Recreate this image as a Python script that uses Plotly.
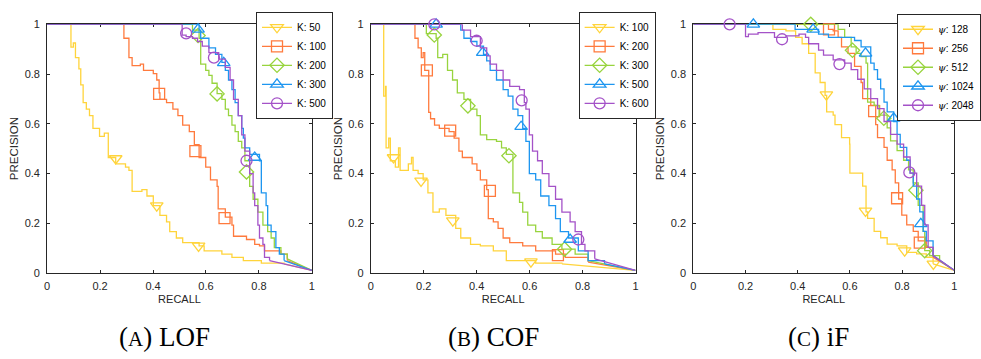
import plotly.graph_objects as go

# ---------------- data ----------------
# LOF
LOF_K50_R = [0, 0.090, 0.099, 0.107, 0.120, 0.127, 0.136, 0.148, 0.160, 0.173, 0.198, 0.216, 0.231, 0.259, 0.296, 0.309, 0.321, 0.358, 0.377, 0.401, 0.426, 0.451, 0.463, 0.488, 0.512, 0.574, 0.593, 0.660, 0.698, 0.741, 0.809, 0.895, 1.0]
LOF_K50_P = [1, 0.908, 0.925, 0.866, 0.821, 0.756, 0.685, 0.659, 0.633, 0.581, 0.549, 0.562, 0.464, 0.438, 0.425, 0.412, 0.328, 0.335, 0.309, 0.270, 0.231, 0.205, 0.166, 0.140, 0.121, 0.108, 0.088, 0.075, 0.062, 0.049, 0.039, 0.036, 0.01]
LOF_K50_MR = [0.259, 0.414, 0.572]
LOF_K50_MP = [0.46, 0.27, 0.108]

LOF_K100_R = [0, 0.290, 0.309, 0.321, 0.352, 0.364, 0.401, 0.414, 0.423, 0.426, 0.451, 0.475, 0.494, 0.512, 0.537, 0.556, 0.574, 0.599, 0.617, 0.642, 0.646, 0.673, 0.698, 0.704, 0.753, 0.784, 0.802, 0.821, 0.883, 0.907, 1.0]
LOF_K100_P = [1, 0.944, 0.866, 0.834, 0.840, 0.815, 0.802, 0.776, 0.724, 0.698, 0.685, 0.659, 0.633, 0.594, 0.568, 0.516, 0.464, 0.425, 0.374, 0.348, 0.257, 0.224, 0.192, 0.147, 0.134, 0.114, 0.108, 0.088, 0.075, 0.049, 0.01]
LOF_K100_MR = [0.423, 0.56, 0.67]
LOF_K100_MP = [0.72, 0.49, 0.22]

LOF_K200_R = [0, 0.549, 0.574, 0.580, 0.599, 0.611, 0.623, 0.642, 0.660, 0.673, 0.685, 0.698, 0.710, 0.722, 0.735, 0.747, 0.765, 0.778, 0.796, 0.815, 0.833, 0.846, 0.858, 0.883, 0.907, 1.0]
LOF_K200_P = [1, 0.977, 0.944, 0.840, 0.815, 0.795, 0.763, 0.721, 0.698, 0.659, 0.633, 0.594, 0.568, 0.529, 0.503, 0.451, 0.348, 0.296, 0.244, 0.192, 0.166, 0.140, 0.101, 0.075, 0.056, 0.01]
LOF_K200_MR = [0.57, 0.642, 0.753]
LOF_K200_MP = [0.955, 0.72, 0.406]

LOF_K300_R = [0, 0.574, 0.580, 0.611, 0.636, 0.660, 0.673, 0.685, 0.698, 0.710, 0.722, 0.735, 0.741, 0.747, 0.765, 0.802, 0.809, 0.827, 0.833, 0.846, 0.864, 0.877, 0.895, 1.0]
LOF_K300_P = [1, 0.977, 0.944, 0.905, 0.879, 0.847, 0.815, 0.776, 0.737, 0.685, 0.633, 0.581, 0.542, 0.503, 0.477, 0.451, 0.322, 0.270, 0.192, 0.166, 0.101, 0.075, 0.049, 0.01]
LOF_K300_MR = [0.57, 0.667, 0.784]
LOF_K300_MP = [0.98, 0.845, 0.464]

LOF_K500_R = [0, 0.510, 0.525, 0.549, 0.568, 0.586, 0.611, 0.648, 0.673, 0.691, 0.704, 0.722, 0.735, 0.747, 0.765, 0.778, 0.784, 0.796, 0.802, 0.815, 0.821, 0.840, 1.0]
LOF_K500_P = [1, 0.957, 0.951, 0.944, 0.931, 0.912, 0.886, 0.860, 0.827, 0.776, 0.698, 0.633, 0.555, 0.490, 0.399, 0.322, 0.270, 0.192, 0.140, 0.114, 0.062, 0.049, 0.01]
LOF_K500_MR = [0.525, 0.63, 0.753]
LOF_K500_MP = [0.964, 0.866, 0.451]

# COF
COF_K100_R = [0, 0.049, 0.056, 0.058, 0.068, 0.074, 0.093, 0.105, 0.111, 0.142, 0.154, 0.160, 0.179, 0.198, 0.216, 0.235, 0.259, 0.284, 0.321, 0.340, 0.377, 0.414, 0.463, 0.512, 0.623, 0.722, 1.0]
COF_K100_P = [1, 0.711, 0.750, 0.503, 0.542, 0.451, 0.425, 0.503, 0.412, 0.438, 0.464, 0.412, 0.399, 0.374, 0.322, 0.244, 0.257, 0.231, 0.179, 0.140, 0.114, 0.108, 0.088, 0.049, 0.039, 0.036, 0.01]
COF_K100_MR = [0.086, 0.19, 0.31, 0.605]
COF_K100_MP = [0.464, 0.37, 0.21, 0.045]

COF_K200_R = [0, 0.167, 0.179, 0.191, 0.198, 0.204, 0.219, 0.226, 0.241, 0.259, 0.296, 0.315, 0.333, 0.346, 0.383, 0.401, 0.414, 0.438, 0.444, 0.463, 0.481, 0.500, 0.525, 0.574, 0.623, 0.698, 0.735, 0.821, 1.0]
COF_K200_P = [1, 0.944, 0.905, 0.866, 0.886, 0.815, 0.646, 0.620, 0.594, 0.581, 0.568, 0.542, 0.490, 0.464, 0.438, 0.412, 0.374, 0.335, 0.218, 0.205, 0.179, 0.140, 0.121, 0.108, 0.088, 0.075, 0.062, 0.043, 0.01]
COF_K200_MR = [0.212, 0.30, 0.45, 0.707]
COF_K200_MP = [0.815, 0.572, 0.33, 0.071]

COF_K300_R = [0, 0.210, 0.247, 0.253, 0.272, 0.290, 0.309, 0.327, 0.352, 0.377, 0.401, 0.414, 0.438, 0.475, 0.494, 0.512, 0.537, 0.562, 0.574, 0.593, 0.623, 0.648, 0.685, 0.722, 0.772, 0.821, 1.0]
COF_K300_P = [1, 0.963, 0.944, 0.866, 0.879, 0.815, 0.776, 0.724, 0.698, 0.659, 0.633, 0.555, 0.536, 0.529, 0.503, 0.477, 0.322, 0.283, 0.244, 0.192, 0.166, 0.140, 0.114, 0.095, 0.075, 0.049, 0.01]
COF_K300_MR = [0.24, 0.367, 0.522, 0.732]
COF_K300_MP = [0.957, 0.672, 0.471, 0.095]

COF_K500_R = [0, 0.340, 0.352, 0.377, 0.401, 0.426, 0.438, 0.451, 0.475, 0.500, 0.519, 0.537, 0.556, 0.574, 0.586, 0.599, 0.623, 0.642, 0.673, 0.698, 0.716, 0.747, 0.784, 0.821, 0.883, 1.0]
COF_K500_P = [1, 0.977, 0.944, 0.931, 0.912, 0.879, 0.853, 0.815, 0.776, 0.737, 0.711, 0.659, 0.633, 0.581, 0.529, 0.399, 0.374, 0.309, 0.270, 0.218, 0.166, 0.140, 0.088, 0.049, 0.036, 0.01]
COF_K500_MR = [0.247, 0.423, 0.568, 0.753]
COF_K500_MP = [1.0, 0.886, 0.588, 0.134]

COF_K600_R = [0, 0.346, 0.377, 0.414, 0.438, 0.451, 0.475, 0.500, 0.525, 0.562, 0.580, 0.586, 0.599, 0.611, 0.630, 0.648, 0.673, 0.698, 0.722, 0.753, 0.772, 0.796, 0.809, 0.846, 1.0]
COF_K600_P = [1, 0.977, 0.951, 0.905, 0.873, 0.840, 0.815, 0.776, 0.750, 0.737, 0.685, 0.659, 0.555, 0.490, 0.451, 0.399, 0.348, 0.296, 0.244, 0.205, 0.166, 0.114, 0.088, 0.056, 0.01]
COF_K600_MR = [0.24, 0.40, 0.57, 0.784]
COF_K600_MP = [1.0, 0.934, 0.694, 0.134]

# iF
IF_128_R = [0, 0.305, 0.355, 0.392, 0.417, 0.442, 0.467, 0.486, 0.505, 0.511, 0.536, 0.543, 0.568, 0.599, 0.600, 0.649, 0.662, 0.668, 0.693, 0.718, 0.743, 0.781, 0.818, 0.856, 0.893, 0.919, 1.0]
IF_128_P = [1, 0.980, 0.974, 0.948, 0.922, 0.883, 0.805, 0.766, 0.714, 0.648, 0.635, 0.596, 0.544, 0.518, 0.401, 0.349, 0.245, 0.219, 0.167, 0.141, 0.115, 0.108, 0.082, 0.076, 0.0625, 0.036, 0.01]
IF_128_MR = [0.51, 0.66, 0.81, 0.92]
IF_128_MP = [0.717, 0.249, 0.089, 0.036]

IF_256_R = [0, 0.518, 0.536, 0.555, 0.568, 0.593, 0.618, 0.643, 0.649, 0.680, 0.699, 0.706, 0.731, 0.743, 0.762, 0.774, 0.787, 0.799, 0.818, 0.843, 0.862, 0.893, 0.919, 1.0]
IF_256_P = [1, 0.980, 0.974, 0.948, 0.909, 0.883, 0.831, 0.766, 0.701, 0.674, 0.596, 0.544, 0.505, 0.453, 0.414, 0.362, 0.297, 0.232, 0.193, 0.167, 0.128, 0.102, 0.0625, 0.01]
IF_256_MR = [0.52, 0.693, 0.781, 0.868]
IF_256_MP = [0.98, 0.651, 0.30, 0.121]

IF_512_R = [0, 0.555, 0.580, 0.605, 0.624, 0.643, 0.662, 0.668, 0.693, 0.712, 0.743, 0.756, 0.781, 0.806, 0.825, 0.843, 0.862, 0.881, 0.887, 0.906, 0.944, 1.0]
IF_512_P = [1, 0.980, 0.948, 0.909, 0.883, 0.870, 0.844, 0.687, 0.674, 0.635, 0.583, 0.531, 0.492, 0.453, 0.414, 0.362, 0.271, 0.167, 0.089, 0.069, 0.049, 0.01]
IF_512_MR = [0.45, 0.61, 0.73, 0.853, 0.887]
IF_512_MP = [1.0, 0.896, 0.622, 0.332, 0.089]

IF_1024_R = [0, 0.390, 0.480, 0.518, 0.618, 0.643, 0.680, 0.693, 0.706, 0.718, 0.731, 0.743, 0.768, 0.781, 0.793, 0.818, 0.831, 0.843, 0.856, 0.868, 0.881, 0.893, 0.919, 1.0]
IF_1024_P = [1, 0.980, 0.961, 0.948, 0.935, 0.909, 0.844, 0.818, 0.779, 0.740, 0.687, 0.648, 0.609, 0.557, 0.505, 0.453, 0.401, 0.349, 0.297, 0.245, 0.167, 0.128, 0.069, 0.01]
IF_1024_MR = [0.23, 0.459, 0.66, 0.768, 0.872]
IF_1024_MP = [1.0, 0.98, 0.883, 0.622, 0.197]

IF_2048_R = [0, 0.200, 0.211, 0.248, 0.311, 0.355, 0.405, 0.430, 0.442, 0.480, 0.499, 0.536, 0.580, 0.605, 0.630, 0.655, 0.680, 0.706, 0.731, 0.756, 0.781, 0.806, 0.831, 0.856, 0.875, 0.887, 0.900, 0.919, 1.0]
IF_2048_P = [1, 0.951, 0.961, 0.967, 0.948, 0.954, 0.961, 0.948, 0.922, 0.896, 0.876, 0.857, 0.844, 0.818, 0.779, 0.740, 0.701, 0.661, 0.609, 0.557, 0.518, 0.466, 0.401, 0.349, 0.271, 0.193, 0.102, 0.069, 0.01]
IF_2048_MR = [0.139, 0.34, 0.56, 0.828]
IF_2048_MP = [1.0, 0.94, 0.84, 0.404]

LOF_LABELS = ["K: 50", "K: 100", "K: 200", "K: 300", "K: 500"]
COF_LABELS = ["K: 100", "K: 200", "K: 300", "K: 500", "K: 600"]
PSI = '<span style="font-family:DejaVu Serif;font-style:italic">ψ</span>'
IF_LABELS = [PSI + ": 128", PSI + ": 256", PSI + ": 512", PSI + ": 1024", PSI + ": 2048"]
CAPTIONS = ['(<span style="font-size:21px">A</span>) LOF',
            '(<span style="font-size:21px">B</span>) COF',
            '(<span style="font-size:21px">C</span>) iF']
X_TITLE = "RECALL"
Y_TITLE = "PRECISION"
TICKS = [0, 0.2, 0.4, 0.6, 0.8, 1]
TICK_TEXT = ["0", "0.2", "0.4", "0.6", "0.8", "1"]

COLORS = ["#FFD43B", "#FF7A3D", "#98D43E", "#1E96F0", "#A452C8"]
SYMBOLS = ["triangle-down-open", "square-open", "diamond-open", "triangle-up-open", "circle-open"]

panels = [
    ([(LOF_K50_R, LOF_K50_P, LOF_K50_MR, LOF_K50_MP),
      (LOF_K100_R, LOF_K100_P, LOF_K100_MR, LOF_K100_MP),
      (LOF_K200_R, LOF_K200_P, LOF_K200_MR, LOF_K200_MP),
      (LOF_K300_R, LOF_K300_P, LOF_K300_MR, LOF_K300_MP),
      (LOF_K500_R, LOF_K500_P, LOF_K500_MR, LOF_K500_MP)], LOF_LABELS),
    ([(COF_K100_R, COF_K100_P, COF_K100_MR, COF_K100_MP),
      (COF_K200_R, COF_K200_P, COF_K200_MR, COF_K200_MP),
      (COF_K300_R, COF_K300_P, COF_K300_MR, COF_K300_MP),
      (COF_K500_R, COF_K500_P, COF_K500_MR, COF_K500_MP),
      (COF_K600_R, COF_K600_P, COF_K600_MR, COF_K600_MP)], COF_LABELS),
    ([(IF_128_R, IF_128_P, IF_128_MR, IF_128_MP),
      (IF_256_R, IF_256_P, IF_256_MR, IF_256_MP),
      (IF_512_R, IF_512_P, IF_512_MR, IF_512_MP),
      (IF_1024_R, IF_1024_P, IF_1024_MR, IF_1024_MP),
      (IF_2048_R, IF_2048_P, IF_2048_MR, IF_2048_MP)], IF_LABELS),
]

W, H = 981, 359
X_DOMAINS = [(45, 315), (375, 645), (704, 970)]
Y_BOX = (19, 276)
LEGEND_POS = [(258, 6), (587, 6), (912, 8)]
CAPTION_X = [165, 500, 832]
CAPTION_Y = 342

AX_COLOR = "#262626"
SANS = "Liberation Sans, Arial, sans-serif"

fig = go.Figure()
for i, (series, labels) in enumerate(panels):
    xa = "x" if i == 0 else f"x{i+1}"
    ya = "y" if i == 0 else f"y{i+1}"
    lg = "legend" if i == 0 else f"legend{i+1}"
    for j, (r, p, mr, mp) in enumerate(series):
        c = COLORS[j]
        fig.add_trace(go.Scatter(x=r[:-1], y=p[:-1], mode="lines", line=dict(color=c, width=1.3, shape="hv"),
                                 xaxis=xa, yaxis=ya, showlegend=False, hoverinfo="skip"))
        fig.add_trace(go.Scatter(x=r[-2:], y=p[-2:], mode="lines", line=dict(color=c, width=1.3),
                                 xaxis=xa, yaxis=ya, showlegend=False, hoverinfo="skip"))
        fig.add_trace(go.Scatter(x=mr, y=mp, mode="markers", cliponaxis=False,
                                 marker=dict(symbol=SYMBOLS[j], size=11, color=c, line=dict(width=1.3, color=c)),
                                 xaxis=xa, yaxis=ya, showlegend=False, hoverinfo="skip"))
        fig.add_trace(go.Scatter(x=[None], y=[None], mode="lines+markers", name=labels[j],
                                 line=dict(color=c, width=1.3),
                                 marker=dict(symbol=SYMBOLS[j], size=11, color=c, line=dict(width=1.3, color=c)),
                                 xaxis=xa, yaxis=ya, legend=lg, showlegend=True))

    axis_common = dict(range=[0, 1], tickvals=TICKS, ticktext=TICK_TEXT, showline=True, linecolor=AX_COLOR,
                       linewidth=1, mirror="ticks", ticks="inside", ticklen=3, tickcolor=AX_COLOR,
                       showgrid=False, zeroline=False, layer="below traces",
                       tickfont=dict(family=SANS, size=11, color=AX_COLOR))
    x0, x1 = X_DOMAINS[i]
    xkey = "xaxis" if i == 0 else f"xaxis{i+1}"
    ykey = "yaxis" if i == 0 else f"yaxis{i+1}"
    fig.update_layout(**{
        xkey: dict(axis_common, domain=[x0 / W, x1 / W], anchor=ya, ticklabelstandoff=3,
                   title=dict(text=X_TITLE, font=dict(family=SANS, size=11, color=AX_COLOR), standoff=4)),
        ykey: dict(axis_common, domain=[1 - Y_BOX[1] / H, 1 - Y_BOX[0] / H], anchor=xa, ticklabelstandoff=4,
                   title=dict(text=Y_TITLE, font=dict(family=SANS, size=11.5, color=AX_COLOR), standoff=3)),
    })
    lx, ly = LEGEND_POS[i]
    fig.update_layout(**{lg: dict(x=lx / W, y=1 - ly / H, xanchor="left", yanchor="top", bgcolor="white",
                                  bordercolor=AX_COLOR, borderwidth=1, itemwidth=30, tracegroupgap=0,
                                  font=dict(family=SANS, size=10, color="black"))})
    fig.add_annotation(text=CAPTIONS[i], x=CAPTION_X[i] / W, y=1 - CAPTION_Y / H, xref="paper", yref="paper",
                       showarrow=False, xanchor="center", yanchor="middle",
                       font=dict(family="Liberation Serif, serif", size=27, color="black"))

fig.update_layout(width=W, height=H, margin=dict(l=0, r=0, t=0, b=0), plot_bgcolor="white",
                  paper_bgcolor="white", showlegend=True)
fig.write_html("out.html")
